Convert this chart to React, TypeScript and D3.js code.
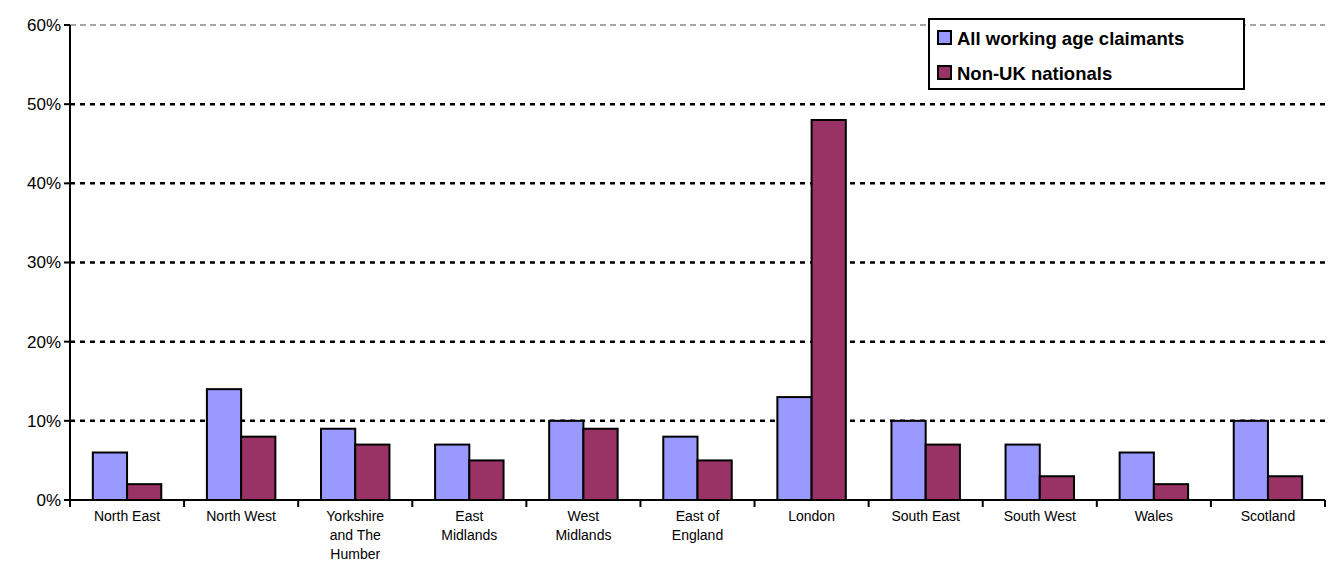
import React from "react";
import * as d3 from "d3";

const categories = [
  ["North East"], ["North West"], ["Yorkshire", "and The", "Humber"], ["East", "Midlands"],
  ["West", "Midlands"], ["East of", "England"], ["London"], ["South East"], ["South West"],
  ["Wales"], ["Scotland"],
];
const allClaimants = [6, 14, 9, 7, 10, 8, 13, 10, 7, 6, 10];
const nonUK = [2, 8, 7, 5, 9, 5, 48, 7, 3, 2, 3];
const yTicks = [0, 10, 20, 30, 40, 50, 60];
const seriesNames = ["All working age claimants", "Non-UK nationals"];
const colors = ["#9999FF", "#993366"];

const App: React.FC = () => {
  const W = 1331, H = 581;
  const left = 70, right = 1325, top = 25, bottom = 500;
  const x = d3.scaleBand<number>().domain(d3.range(categories.length)).range([left, right]);
  const y = d3.scaleLinear().domain([0, 60]).range([bottom, top]);
  const bw = x.bandwidth() * 0.3;
  const font = "Arial, 'Liberation Sans', sans-serif";

  return (
    <svg width={W} height={H} style={{ position: "absolute", left: 0, top: 0, fontFamily: font }}>
      {yTicks.map((t) => (
        <g key={t}>
          {t > 0 && (
            <line x1={left} x2={right} y1={y(t)} y2={y(t)} stroke={t === 60 ? "#888" : "#000"}
              strokeWidth={t === 60 ? 1.5 : 2.5} strokeDasharray={t === 60 ? "6,4" : "5,5"} />
          )}
          <line x1={left - 6} x2={left} y1={y(t)} y2={y(t)} stroke="#000" strokeWidth={2} />
          <text x={left - 9} y={y(t)} dy="0.35em" textAnchor="end" fontSize={17}>{t}%</text>
        </g>
      ))}
      {categories.map((c, i) => {
        const cx = x(i)! + x.bandwidth() / 2;
        return (
          <g key={i}>
            <rect x={cx - bw} y={y(allClaimants[i])} width={bw} height={bottom - y(allClaimants[i])}
              fill={colors[0]} stroke="#000" strokeWidth={2} />
            <rect x={cx} y={y(nonUK[i])} width={bw} height={bottom - y(nonUK[i])}
              fill={colors[1]} stroke="#000" strokeWidth={2} />
            <text x={cx} y={521} textAnchor="middle" fontSize={14}>
              {c.map((l, j) => <tspan key={j} x={cx} dy={j === 0 ? 0 : 19}>{l}</tspan>)}
            </text>
          </g>
        );
      })}
      {d3.range(categories.length + 1).map((i) => {
        const tx = i < categories.length ? x(i)! : right;
        return <line key={i} x1={tx} x2={tx} y1={bottom} y2={bottom + 7} stroke="#000" strokeWidth={2} />;
      })}
      <line x1={left} x2={right} y1={bottom} y2={bottom} stroke="#000" strokeWidth={2} />
      <line x1={left} x2={left} y1={top} y2={bottom} stroke="#000" strokeWidth={2} />
      <g transform="translate(929,19)">
        <rect width={315} height={70} fill="#fff" stroke="#000" strokeWidth={2} />
        {seriesNames.map((s, i) => (
          <g key={s} transform={`translate(9,${19 + i * 35})`}>
            <rect x={0} y={-7} width={13} height={13} fill={colors[i]} stroke="#000" strokeWidth={2} />
            <text x={19} y={1} dy="0.35em" fontSize={18.5} fontWeight="bold">{s}</text>
          </g>
        ))}
      </g>
    </svg>
  );
};

export default App;
